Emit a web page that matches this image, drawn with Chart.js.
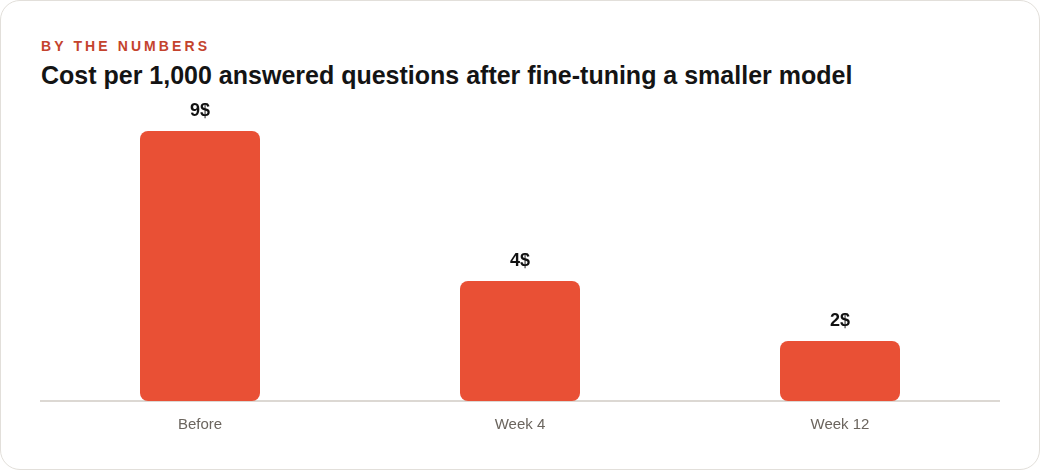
<!DOCTYPE html>
<html>
<head>
<meta charset="utf-8">
<script src="https://cdn.jsdelivr.net/npm/chart.js@4"></script>
<style>
  html, body { margin: 0; padding: 0; background: #ffffff; }
  body { width: 1040px; height: 470px; overflow: hidden; font-family: "Liberation Sans", Arial, sans-serif; }
  .card {
    position: absolute; left: 0; top: 0; width: 1038px; height: 468px;
    border: 1px solid #e2dfda; border-radius: 20px; background: #fff;
  }
  .kicker {
    position: absolute; left: 40px; top: 37px;
    font-size: 14px; font-weight: bold; letter-spacing: 3.1px; color: #c4432d;
  }
  .title {
    position: absolute; left: 40px; top: 60px;
    font-size: 25px; font-weight: bold; color: #141414;
  }
  .wrap { position: absolute; left: 39px; top: 90px; width: 960px; height: 358px; }
</style>
</head>
<body>
<div class="card">
  <div class="kicker">BY THE NUMBERS</div>
  <div class="title">Cost per 1,000 answered questions after fine-tuning a smaller model</div>
  <div class="wrap"><canvas id="chart"></canvas></div>
</div>
<script>
const categories = ['Before', 'Week 4', 'Week 12'];
const costs = [9, 4, 2];
const valueLabels = ['9$', '4$', '2$'];

// etiquetas encima de cada barra
const barLabels = {
  id: 'barLabels',
  afterDatasetsDraw(chart) {
    const ctx = chart.ctx;
    const meta = chart.getDatasetMeta(0);
    ctx.save();
    ctx.font = 'bold 18px "Liberation Sans", Arial, sans-serif';
    ctx.fillStyle = '#111111';
    ctx.textAlign = 'center';
    ctx.textBaseline = 'bottom';
    meta.data.forEach((bar, i) => {
      ctx.fillText(valueLabels[i], bar.x, bar.y - 11);
    });
    ctx.restore();
  }
};

new Chart(document.getElementById('chart'), {
  type: 'bar',
  data: {
    labels: categories,
    datasets: [{
      data: costs,
      backgroundColor: '#e95035',
      borderRadius: 8,
      borderSkipped: false,
      barPercentage: 0.75,
      categoryPercentage: 0.5
    }]
  },
  options: {
    responsive: true,
    maintainAspectRatio: false,
    animation: false,
    layout: { padding: { top: 10, left: 0, right: 0, bottom: 0 } },
    plugins: { legend: { display: false }, tooltip: { enabled: false } },
    scales: {
      x: {
        grid: { display: false, drawTicks: false },
        border: { display: true, color: '#dcd8d3', width: 2 },
        ticks: {
          color: '#6b655e',
          padding: 15,
          font: { family: '"Liberation Sans", Arial, sans-serif', size: 15 }
        }
      },
      y: {
        display: false,
        min: 0,
        max: 10
      }
    }
  },
  plugins: [barLabels]
});
</script>
</body>
</html>
